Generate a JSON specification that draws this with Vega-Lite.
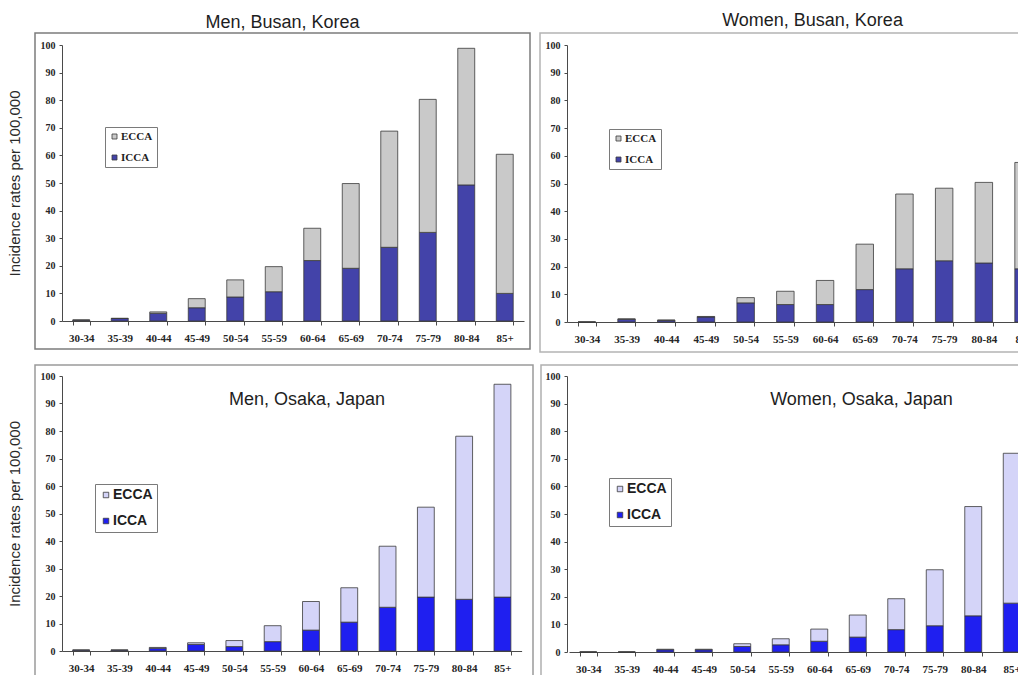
{
  "$schema": "https://vega.github.io/schema/vega-lite/v6.json",
  "background": "white",
  "padding": {"left": 6, "top": 11, "right": 0, "bottom": 0},
  "data": {
    "values": [
      {"panel": "Men, Busan", "age": "30-34", "type": "ICCA", "rate": 0.3},
      {"panel": "Men, Busan", "age": "30-34", "type": "ECCA", "rate": 0.1},
      {"panel": "Men, Busan", "age": "35-39", "type": "ICCA", "rate": 0.9},
      {"panel": "Men, Busan", "age": "35-39", "type": "ECCA", "rate": 0.1},
      {"panel": "Men, Busan", "age": "40-44", "type": "ICCA", "rate": 2.8},
      {"panel": "Men, Busan", "age": "40-44", "type": "ECCA", "rate": 0.5},
      {"panel": "Men, Busan", "age": "45-49", "type": "ICCA", "rate": 4.8},
      {"panel": "Men, Busan", "age": "45-49", "type": "ECCA", "rate": 3.3},
      {"panel": "Men, Busan", "age": "50-54", "type": "ICCA", "rate": 8.7},
      {"panel": "Men, Busan", "age": "50-54", "type": "ECCA", "rate": 6.2},
      {"panel": "Men, Busan", "age": "55-59", "type": "ICCA", "rate": 10.6},
      {"panel": "Men, Busan", "age": "55-59", "type": "ECCA", "rate": 9.1},
      {"panel": "Men, Busan", "age": "60-64", "type": "ICCA", "rate": 21.9},
      {"panel": "Men, Busan", "age": "60-64", "type": "ECCA", "rate": 11.7},
      {"panel": "Men, Busan", "age": "65-69", "type": "ICCA", "rate": 19.1},
      {"panel": "Men, Busan", "age": "65-69", "type": "ECCA", "rate": 30.7},
      {"panel": "Men, Busan", "age": "70-74", "type": "ICCA", "rate": 26.7},
      {"panel": "Men, Busan", "age": "70-74", "type": "ECCA", "rate": 42.1},
      {"panel": "Men, Busan", "age": "75-79", "type": "ICCA", "rate": 32.1},
      {"panel": "Men, Busan", "age": "75-79", "type": "ECCA", "rate": 48.2},
      {"panel": "Men, Busan", "age": "80-84", "type": "ICCA", "rate": 49.3},
      {"panel": "Men, Busan", "age": "80-84", "type": "ECCA", "rate": 49.5},
      {"panel": "Men, Busan", "age": "85+", "type": "ICCA", "rate": 10.0},
      {"panel": "Men, Busan", "age": "85+", "type": "ECCA", "rate": 50.4},

      {"panel": "Women, Busan", "age": "30-34", "type": "ICCA", "rate": 0},
      {"panel": "Women, Busan", "age": "30-34", "type": "ECCA", "rate": 0},
      {"panel": "Women, Busan", "age": "35-39", "type": "ICCA", "rate": 1.0},
      {"panel": "Women, Busan", "age": "35-39", "type": "ECCA", "rate": 0.1},
      {"panel": "Women, Busan", "age": "40-44", "type": "ICCA", "rate": 0.6},
      {"panel": "Women, Busan", "age": "40-44", "type": "ECCA", "rate": 0.1},
      {"panel": "Women, Busan", "age": "45-49", "type": "ICCA", "rate": 1.8},
      {"panel": "Women, Busan", "age": "45-49", "type": "ECCA", "rate": 0.2},
      {"panel": "Women, Busan", "age": "50-54", "type": "ICCA", "rate": 6.9},
      {"panel": "Women, Busan", "age": "50-54", "type": "ECCA", "rate": 1.9},
      {"panel": "Women, Busan", "age": "55-59", "type": "ICCA", "rate": 6.3},
      {"panel": "Women, Busan", "age": "55-59", "type": "ECCA", "rate": 4.8},
      {"panel": "Women, Busan", "age": "60-64", "type": "ICCA", "rate": 6.3},
      {"panel": "Women, Busan", "age": "60-64", "type": "ECCA", "rate": 8.7},
      {"panel": "Women, Busan", "age": "65-69", "type": "ICCA", "rate": 11.7},
      {"panel": "Women, Busan", "age": "65-69", "type": "ECCA", "rate": 16.4},
      {"panel": "Women, Busan", "age": "70-74", "type": "ICCA", "rate": 19.2},
      {"panel": "Women, Busan", "age": "70-74", "type": "ECCA", "rate": 27.0},
      {"panel": "Women, Busan", "age": "75-79", "type": "ICCA", "rate": 22.1},
      {"panel": "Women, Busan", "age": "75-79", "type": "ECCA", "rate": 26.2},
      {"panel": "Women, Busan", "age": "80-84", "type": "ICCA", "rate": 21.3},
      {"panel": "Women, Busan", "age": "80-84", "type": "ECCA", "rate": 29.1},
      {"panel": "Women, Busan", "age": "85+", "type": "ICCA", "rate": 19.2},
      {"panel": "Women, Busan", "age": "85+", "type": "ECCA", "rate": 38.4},

      {"panel": "Men, Osaka", "age": "30-34", "type": "ICCA", "rate": 0.3},
      {"panel": "Men, Osaka", "age": "30-34", "type": "ECCA", "rate": 0.1},
      {"panel": "Men, Osaka", "age": "35-39", "type": "ICCA", "rate": 0.3},
      {"panel": "Men, Osaka", "age": "35-39", "type": "ECCA", "rate": 0.1},
      {"panel": "Men, Osaka", "age": "40-44", "type": "ICCA", "rate": 1.0},
      {"panel": "Men, Osaka", "age": "40-44", "type": "ECCA", "rate": 0.3},
      {"panel": "Men, Osaka", "age": "45-49", "type": "ICCA", "rate": 2.4},
      {"panel": "Men, Osaka", "age": "45-49", "type": "ECCA", "rate": 0.6},
      {"panel": "Men, Osaka", "age": "50-54", "type": "ICCA", "rate": 1.6},
      {"panel": "Men, Osaka", "age": "50-54", "type": "ECCA", "rate": 2.2},
      {"panel": "Men, Osaka", "age": "55-59", "type": "ICCA", "rate": 3.4},
      {"panel": "Men, Osaka", "age": "55-59", "type": "ECCA", "rate": 5.8},
      {"panel": "Men, Osaka", "age": "60-64", "type": "ICCA", "rate": 7.6},
      {"panel": "Men, Osaka", "age": "60-64", "type": "ECCA", "rate": 10.4},
      {"panel": "Men, Osaka", "age": "65-69", "type": "ICCA", "rate": 10.5},
      {"panel": "Men, Osaka", "age": "65-69", "type": "ECCA", "rate": 12.5},
      {"panel": "Men, Osaka", "age": "70-74", "type": "ICCA", "rate": 15.9},
      {"panel": "Men, Osaka", "age": "70-74", "type": "ECCA", "rate": 22.2},
      {"panel": "Men, Osaka", "age": "75-79", "type": "ICCA", "rate": 19.6},
      {"panel": "Men, Osaka", "age": "75-79", "type": "ECCA", "rate": 32.7},
      {"panel": "Men, Osaka", "age": "80-84", "type": "ICCA", "rate": 18.8},
      {"panel": "Men, Osaka", "age": "80-84", "type": "ECCA", "rate": 59.3},
      {"panel": "Men, Osaka", "age": "85+", "type": "ICCA", "rate": 19.6},
      {"panel": "Men, Osaka", "age": "85+", "type": "ECCA", "rate": 77.4},

      {"panel": "Women, Osaka", "age": "30-34", "type": "ICCA", "rate": 0},
      {"panel": "Women, Osaka", "age": "30-34", "type": "ECCA", "rate": 0},
      {"panel": "Women, Osaka", "age": "35-39", "type": "ICCA", "rate": 0},
      {"panel": "Women, Osaka", "age": "35-39", "type": "ECCA", "rate": 0},
      {"panel": "Women, Osaka", "age": "40-44", "type": "ICCA", "rate": 0.8},
      {"panel": "Women, Osaka", "age": "40-44", "type": "ECCA", "rate": 0.2},
      {"panel": "Women, Osaka", "age": "45-49", "type": "ICCA", "rate": 0.8},
      {"panel": "Women, Osaka", "age": "45-49", "type": "ECCA", "rate": 0.2},
      {"panel": "Women, Osaka", "age": "50-54", "type": "ICCA", "rate": 2.0},
      {"panel": "Women, Osaka", "age": "50-54", "type": "ECCA", "rate": 1.0},
      {"panel": "Women, Osaka", "age": "55-59", "type": "ICCA", "rate": 2.6},
      {"panel": "Women, Osaka", "age": "55-59", "type": "ECCA", "rate": 2.2},
      {"panel": "Women, Osaka", "age": "60-64", "type": "ICCA", "rate": 3.9},
      {"panel": "Women, Osaka", "age": "60-64", "type": "ECCA", "rate": 4.4},
      {"panel": "Women, Osaka", "age": "65-69", "type": "ICCA", "rate": 5.4},
      {"panel": "Women, Osaka", "age": "65-69", "type": "ECCA", "rate": 8.0},
      {"panel": "Women, Osaka", "age": "70-74", "type": "ICCA", "rate": 8.1},
      {"panel": "Women, Osaka", "age": "70-74", "type": "ECCA", "rate": 11.2},
      {"panel": "Women, Osaka", "age": "75-79", "type": "ICCA", "rate": 9.5},
      {"panel": "Women, Osaka", "age": "75-79", "type": "ECCA", "rate": 20.3},
      {"panel": "Women, Osaka", "age": "80-84", "type": "ICCA", "rate": 13.1},
      {"panel": "Women, Osaka", "age": "80-84", "type": "ECCA", "rate": 39.6},
      {"panel": "Women, Osaka", "age": "85+", "type": "ICCA", "rate": 17.7},
      {"panel": "Women, Osaka", "age": "85+", "type": "ECCA", "rate": 54.3}
    ]
  },
  "config": {
    "font": "Liberation Sans",
    "title": {"font": "Liberation Sans", "fontSize": 18, "fontWeight": "normal", "color": "#1e1e1e", "anchor": "middle", "frame": "group"},
    "axis": {
      "grid": false,
      "domainColor": "#4a4a4a",
      "domainWidth": 1,
      "tickColor": "#4a4a4a",
      "tickWidth": 1,
      "tickSize": 3,
      "labelFont": "Liberation Serif",
      "labelFontWeight": "bold",
      "labelColor": "#262626",
      "titleFont": "Liberation Sans",
      "titleFontSize": 15,
      "titleFontWeight": "normal",
      "titleColor": "#2a2a2a"
    },
    "axisX": {"labelFontSize": 11, "labelAngle": 0, "labelPadding": 7, "labelOverlap": false, "tickBand": "extent", "tickSize": 4},
    "axisY": {"labelFontSize": 10, "labelPadding": 4},
    "legend": {
      "orient": "none",
      "title": null,
      "strokeColor": "#7a7a7a",
      "fillColor": "white",
      "padding": 4,
      "symbolType": "square",
      "symbolStrokeColor": "#3a3a3a",
      "symbolStrokeWidth": 0.8,
      "labelOffset": 1,
      "labelColor": "#1e1e1e",
      "labelFontWeight": "bold"
    },
    "bar": {"stroke": "#3a3a3a", "strokeWidth": 0.8}
  },
  "resolve": {"scale": {"color": "independent"}, "legend": {"color": "independent"}},
  "spacing": 11,
  "vconcat": [
    {
      "spacing": 8,
      "resolve": {"scale": {"color": "independent"}, "legend": {"color": "independent"}},
      "hconcat": [
        {
          "width": 495,
          "height": 316,
          "view": {"stroke": "#7c7c7c", "strokeWidth": 1.5, "fill": "white"},
          "title": {"text": "Men, Busan, Korea", "offset": 1},
          "transform": [{"filter": "datum.panel === 'Men, Busan'"}],
          "mark": {"type": "bar"},
          "encoding": {
            "x": {
              "field": "age", "type": "nominal", "sort": null,
              "scale": {"domain": ["30-34", "35-39", "40-44", "45-49", "50-54", "55-59", "60-64", "65-69", "70-74", "75-79", "80-84", "85+"], "range": [27, 489], "paddingInner": 0.56, "paddingOuter": 0.28},
              "axis": {"title": null, "offset": -28}
            },
            "y": {
              "field": "rate", "type": "quantitative", "stack": "zero",
              "scale": {"domain": [0, 100], "nice": false, "range": [288, 12]},
              "axis": {"title": "Incidence rates per 100,000", "offset": -27, "values": [0, 10, 20, 30, 40, 50, 60, 70, 80, 90, 100], "titlePadding": 18}
            },
            "color": {
              "field": "type", "type": "nominal",
              "scale": {"domain": ["ECCA", "ICCA"], "range": ["#c9c9c9", "#4343a9"]},
              "legend": {"legendX": 70, "legendY": 94, "labelFont": "Liberation Serif", "labelFontSize": 11, "symbolSize": 25, "rowPadding": 9}
            },
            "order": {"field": "type", "sort": "descending"}
          }
        },
        {
          "width": 509,
          "height": 319,
          "view": {"stroke": "#b4b4b4", "strokeWidth": 1.5, "fill": "white"},
          "title": {"text": "Women, Busan, Korea", "offset": 3, "dx": 18},
          "transform": [{"filter": "datum.panel === 'Women, Busan'"}],
          "mark": {"type": "bar"},
          "encoding": {
            "x": {
              "field": "age", "type": "nominal", "sort": null,
              "scale": {"domain": ["30-34", "35-39", "40-44", "45-49", "50-54", "55-59", "60-64", "65-69", "70-74", "75-79", "80-84", "85+"], "range": [27, 503.4], "paddingInner": 0.56, "paddingOuter": 0.28},
              "axis": {"title": null, "offset": -30}
            },
            "y": {
              "field": "rate", "type": "quantitative", "stack": "zero",
              "scale": {"domain": [0, 100], "nice": false, "range": [289, 12]},
              "axis": {"title": null, "offset": -27, "values": [0, 10, 20, 30, 40, 50, 60, 70, 80, 90, 100]}
            },
            "color": {
              "field": "type", "type": "nominal",
              "scale": {"domain": ["ECCA", "ICCA"], "range": ["#c9c9c9", "#4343a9"]},
              "legend": {"legendX": 69, "legendY": 96, "labelFont": "Liberation Serif", "labelFontSize": 11, "symbolSize": 25, "rowPadding": 9}
            },
            "order": {"field": "type", "sort": "descending"}
          }
        }
      ]
    },
    {
      "spacing": 6,
      "resolve": {"scale": {"color": "independent"}, "legend": {"color": "independent"}},
      "hconcat": [
        {
          "width": 498,
          "height": 316,
          "view": {"stroke": "#9a9a9a", "strokeWidth": 1.5, "fill": "white"},
          "title": {"text": "Men, Osaka, Japan", "offset": -44, "dx": 23},
          "transform": [{"filter": "datum.panel === 'Men, Osaka'"}],
          "mark": {"type": "bar"},
          "encoding": {
            "x": {
              "field": "age", "type": "nominal", "sort": null,
              "scale": {"domain": ["30-34", "35-39", "40-44", "45-49", "50-54", "55-59", "60-64", "65-69", "70-74", "75-79", "80-84", "85+"], "range": [27, 486.6], "paddingInner": 0.56, "paddingOuter": 0.28},
              "axis": {"title": null, "offset": -30}
            },
            "y": {
              "field": "rate", "type": "quantitative", "stack": "zero",
              "scale": {"domain": [0, 100], "nice": false, "range": [286, 11]},
              "axis": {"title": "Incidence rates per 100,000", "offset": -27, "values": [0, 10, 20, 30, 40, 50, 60, 70, 80, 90, 100], "titlePadding": 18}
            },
            "color": {
              "field": "type", "type": "nominal",
              "scale": {"domain": ["ECCA", "ICCA"], "range": ["#d4d4f8", "#1f1ff0"]},
              "legend": {"legendX": 60, "legendY": 119, "labelFont": "Liberation Sans", "labelFontSize": 14, "symbolSize": 30, "rowPadding": 12, "labelOffset": 0}
            },
            "order": {"field": "type", "sort": "descending"}
          }
        },
        {
          "width": 509,
          "height": 316,
          "view": {"stroke": "#b0b0b0", "strokeWidth": 1.5, "fill": "white"},
          "title": {"text": "Women, Osaka, Japan", "offset": -44, "dx": 66},
          "transform": [{"filter": "datum.panel === 'Women, Osaka'"}],
          "mark": {"type": "bar"},
          "encoding": {
            "x": {
              "field": "age", "type": "nominal", "sort": null,
              "scale": {"domain": ["30-34", "35-39", "40-44", "45-49", "50-54", "55-59", "60-64", "65-69", "70-74", "75-79", "80-84", "85+"], "range": [28, 490], "paddingInner": 0.56, "paddingOuter": 0.28},
              "axis": {"title": null, "offset": -29}
            },
            "y": {
              "field": "rate", "type": "quantitative", "stack": "zero",
              "scale": {"domain": [0, 100], "nice": false, "range": [287, 11]},
              "axis": {"title": null, "offset": -26, "values": [0, 10, 20, 30, 40, 50, 60, 70, 80, 90, 100]}
            },
            "color": {
              "field": "type", "type": "nominal",
              "scale": {"domain": ["ECCA", "ICCA"], "range": ["#d4d4f8", "#1f1ff0"]},
              "legend": {"legendX": 68, "legendY": 113, "labelFont": "Liberation Sans", "labelFontSize": 14, "symbolSize": 30, "rowPadding": 12, "labelOffset": 0}
            },
            "order": {"field": "type", "sort": "descending"}
          }
        }
      ]
    }
  ]
}
